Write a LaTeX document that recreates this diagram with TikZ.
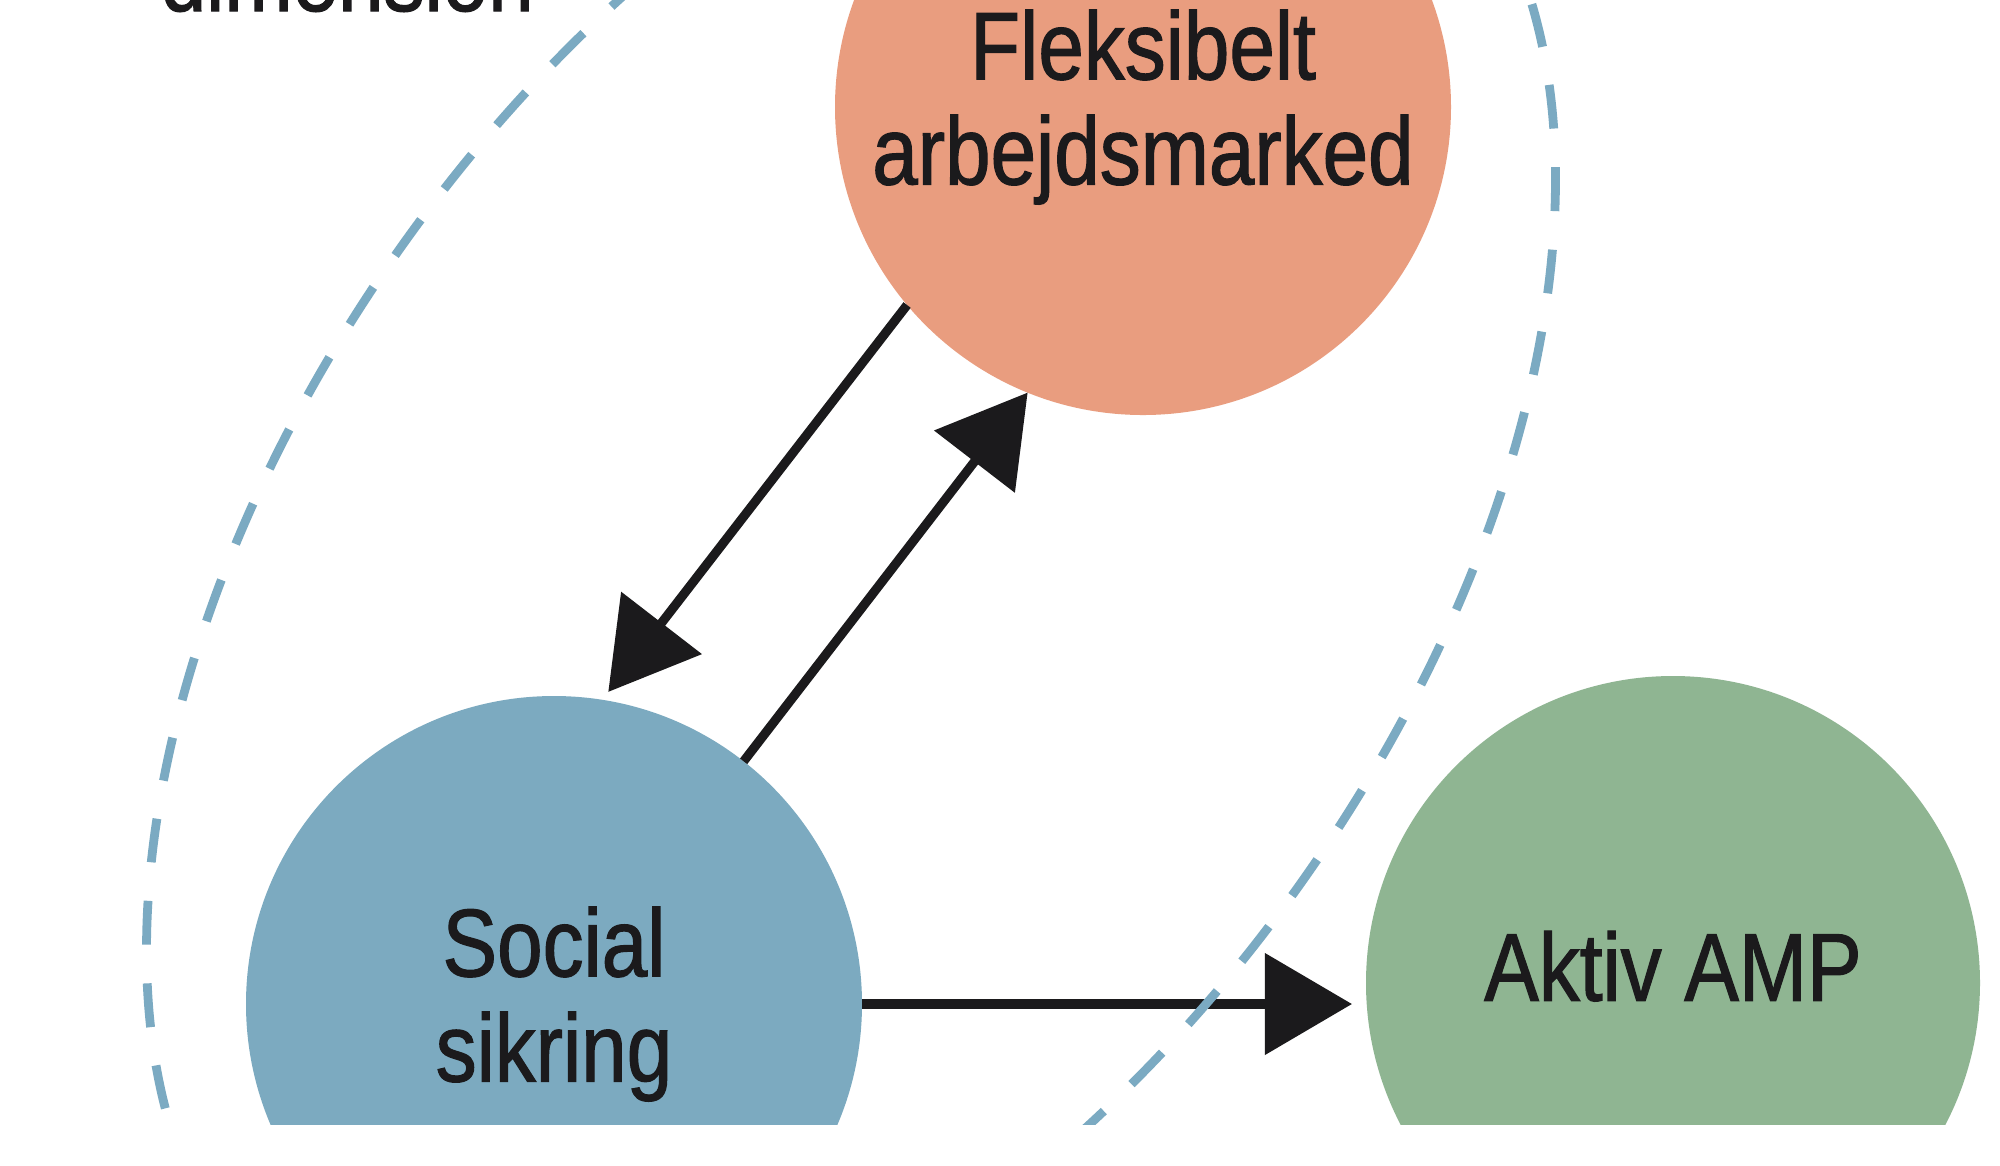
\documentclass[tikz,border=0pt]{standalone}
\usepackage{fontspec}
\setmainfont{Liberation Sans}[FakeStretch=0.85, FakeBold=1.2]
\usetikzlibrary{arrows.meta}
\definecolor{flexc}{HTML}{E99D7F}
\definecolor{socc}{HTML}{7CAAC0}
\definecolor{ampc}{HTML}{8FB592}
\definecolor{dashc}{HTML}{7BAAC2}
\definecolor{arrc}{HTML}{1B1A1C}
\tikzset{
  bigtext/.style={font=\fontsize{27.4pt}{29.9pt}\selectfont, text=arrc},
  disc/.style={circle, inner sep=0pt, outer sep=0pt, draw=none, align=center, bigtext},
  conn/.style={draw=arrc, line width=2.6pt, -{Triangle[length=24.8pt, width=28.4pt]}},
  grouping/.style={draw=dashc, line width=2.5pt, dash pattern=on 12.5pt off 11pt},
}
\begin{document}
\begin{tikzpicture}
\useasboundingbox (0,0) rectangle (20,-11.65);
\fill[white] (0,0) rectangle (20,-11.65);
\begin{scope}
\clip (0,0) rectangle (20,-11.24);
\node[disc, fill=flexc, minimum size=6.16cm] (flex) at (11.43,-1.07) {Fleksibelt\\arbejdsmarked};
\node[disc, fill=socc, minimum size=6.16cm] (soc) at (5.54,-10.04) {Social\\sikring};
\node[disc, fill=ampc, minimum size=6.14cm, text depth=9.8pt] (amp) at (16.73,-9.83) {Aktiv AMP};
\node[bigtext, anchor=base west, inner sep=0pt] (dim) at (1.60,-0.11) {dimension};
\draw[conn, shorten >=0.1cm] (flex.220.3) -- (soc.81.1);
\draw[conn] (soc.52.7) -- (flex.248.4);
\coordinate (amptip) at ([xshift=-0.14cm] soc.east -| amp.west);
\draw[conn] (soc.east) -- (amptip);
\draw[grouping, shift={(8.51,-5.65)}, rotate=54.6] (0,0) ellipse [x radius=9.37, y radius=5.51];
\end{scope}
\end{tikzpicture}
\end{document}
